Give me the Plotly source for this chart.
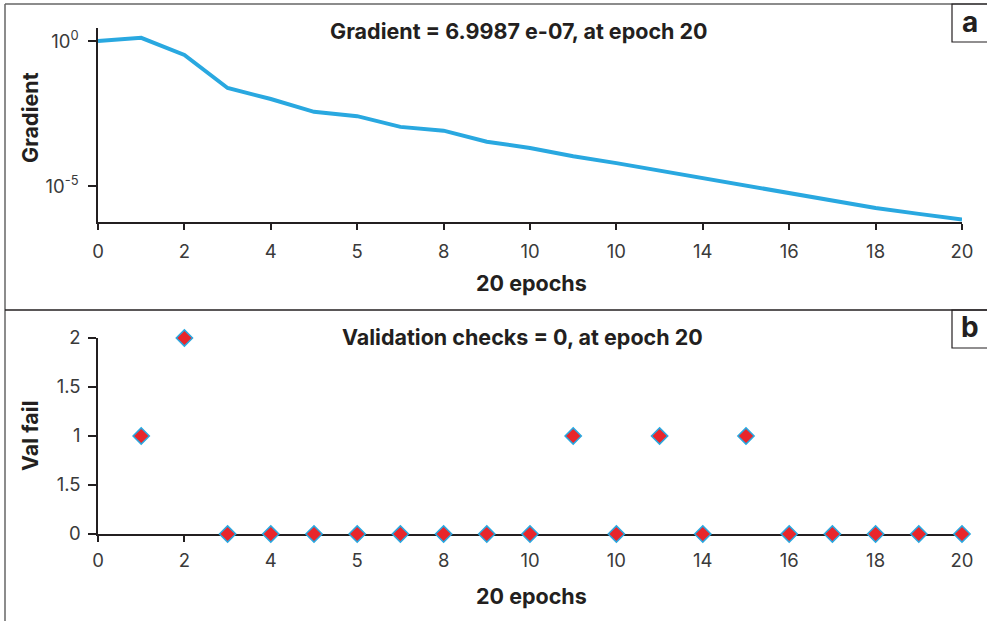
import plotly.graph_objects as go

W, H = 987, 621

epochs = list(range(0, 21))
gradient_log10 = [0.0, 0.11, -0.48, -1.62, -2.0, -2.44, -2.59, -2.96, -3.09, -3.47, -3.69,
                  -3.97, -4.21, -4.47, -4.72, -4.98, -5.24, -5.5, -5.76, -5.96, -6.155]
gradient = [10 ** v for v in gradient_log10]
val_fail = [None, 1, 2, 0, 0, 0, 0, 0, 0, 0, 0, 1, 0, 1, 0, 1, 0, 0, 0, 0, 0]

x_tickvals = [0, 2, 4, 6, 8, 10, 12, 14, 16, 18, 20]
x_ticktext = ["0", "2", "4", "5", "8", "10", "10", "14", "16", "18", "20"]
y1_tickvals = [1, 1e-5]
y1_ticktext = ["10<sup>0</sup>", "10<sup>-5</sup>"]
y2_tickvals = [0, 0.5, 1, 1.5, 2]
y2_ticktext = ["0", "1.5", "1", "1.5", "2"]

title_a = "Gradient = 6.9987 e-07, at epoch 20"
title_b = "Validation checks = 0, at epoch 20"
xlabel = "20 epochs"
ylabel_a = "Gradient"
ylabel_b = "Val fail"

BLUE = "#29a8e0"
RED = "#e8262b"
INK = "#231f20"
FONT = "Inter"


def px(x):
    return x / W


def py(y):
    return 1 - y / H


fig = go.Figure()
fig.add_trace(go.Scatter(x=epochs, y=gradient, mode="lines",
                         line=dict(color=BLUE, width=4), xaxis="x", yaxis="y",
                         showlegend=False))
fig.add_trace(go.Scatter(x=epochs, y=val_fail, mode="markers",
                         marker=dict(symbol="diamond", size=12.5, color=RED,
                                     line=dict(color=BLUE, width=1.5)),
                         xaxis="x2", yaxis="y2", showlegend=False, cliponaxis=False))

axis_common = dict(showgrid=False, zeroline=False, showline=True, linecolor=INK,
                   linewidth=1.5, ticks="outside", tickcolor=INK, tickwidth=1.5,
                   automargin=False, layer="below traces",
                   tickfont=dict(family=FONT, size=18.5, color="#3a3a3a"))

fig.update_layout(
    width=W, height=H,
    margin=dict(l=0, r=0, t=0, b=0, pad=0, autoexpand=False),
    paper_bgcolor="white", plot_bgcolor="white",
    xaxis=dict(domain=[px(98), px(962)], anchor="y", range=[0, 20],
               tickvals=x_tickvals, ticktext=x_ticktext, ticklen=6,
               ticklabelstandoff=6, **axis_common),
    yaxis=dict(domain=[py(222), py(28)], anchor="x", type="log", range=[-6.24, 0.45],
               tickvals=y1_tickvals, ticktext=y1_ticktext, ticklen=8,
               ticklabelstandoff=6, **axis_common),
    xaxis2=dict(domain=[px(98), px(962)], anchor="y2", range=[0, 20],
                tickvals=x_tickvals, ticktext=x_ticktext, ticklen=6,
                ticklabelstandoff=3, **axis_common),
    yaxis2=dict(domain=[py(534), py(338)], anchor="x2", range=[0, 2],
                tickvals=y2_tickvals, ticktext=y2_ticktext, ticklen=8,
                ticklabelstandoff=4, **axis_common),
)

bold = dict(family=FONT, size=21.5, color=INK)
ann = [
    dict(text="<b>" + title_a + "</b>", x=px(519), y=py(31)),
    dict(text="<b>" + title_b + "</b>", x=px(522), y=py(337)),
    dict(text="<b>" + xlabel + "</b>", x=px(531), y=py(283)),
    dict(text="<b>" + xlabel + "</b>", x=px(531), y=py(596)),
    dict(text="<b>" + ylabel_a + "</b>", x=px(30), y=py(118), textangle=-90),
    dict(text="<b>" + ylabel_b + "</b>", x=px(30), y=py(436), textangle=-90),
]
annotations = []
for a in ann:
    d = dict(xref="paper", yref="paper", showarrow=False, xanchor="center",
             yanchor="middle", font=bold)
    d.update(a)
    annotations.append(d)
for lab, yc in (("a", 22), ("b", 327)):
    annotations.append(dict(text="<b>" + lab + "</b>", x=px(970), y=py(yc),
                            xref="paper", yref="paper", showarrow=False,
                            xanchor="center", yanchor="middle",
                            font=dict(family=FONT, size=28, color=INK)))
fig.update_layout(annotations=annotations)

line = dict(color="#666666", width=1.5)
shapes = [
    dict(type="line", xref="paper", yref="paper", x0=px(5), x1=1, y0=py(4), y1=py(4), line=line),
    dict(type="line", xref="paper", yref="paper", x0=px(5), x1=px(5), y0=0, y1=py(4), line=line),
    dict(type="line", xref="paper", yref="paper", x0=px(5), x1=1, y0=py(310), y1=py(310),
         line=dict(color=INK, width=1.5)),
    dict(type="rect", xref="paper", yref="paper", x0=px(952), x1=1.01, y0=py(42), y1=py(4),
         line=dict(color=INK, width=1.2)),
    dict(type="rect", xref="paper", yref="paper", x0=px(952), x1=1.01, y0=py(348), y1=py(310),
         line=dict(color=INK, width=1.2)),
]
fig.update_layout(shapes=shapes)

fig.write_html("out.html", config={"displayModeBar": False, "responsive": False},
               post_script="document.body.style.margin='0';document.body.style.overflow='hidden';")
